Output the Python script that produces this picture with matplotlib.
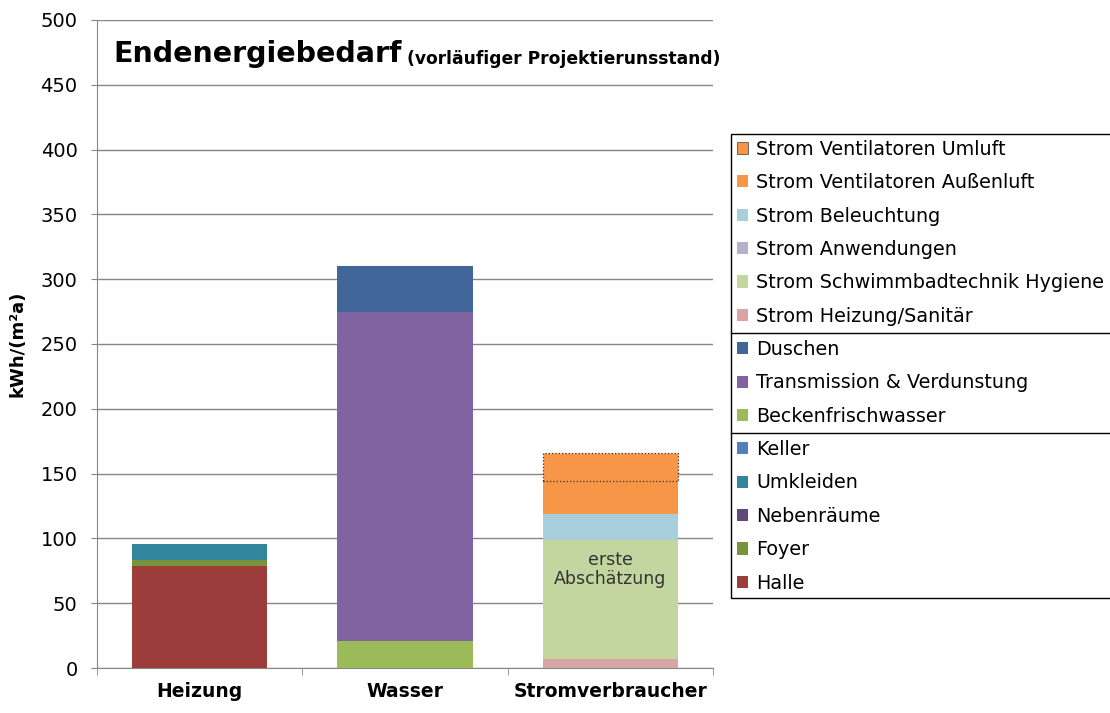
import numpy as np
import matplotlib.pyplot as plt
from matplotlib.patches import Patch, Rectangle
from matplotlib.lines import Line2D

plt.rcParams['font.family'] = ['DejaVu Sans']

categories = ['Heizung', 'Wasser', 'Stromverbraucher']

# stack order bottom -> top, one value per category
series = [
    ('Halle',                             [79, 0, 0],   '#9B3D3B'),
    ('Foyer',                             [4, 0, 0],    '#77933C'),
    ('Nebenräume',                        [0, 0, 0],    '#604A7B'),
    ('Umkleiden',                         [13, 0, 0],   '#31859C'),
    ('Keller',                            [0, 0, 0],    '#4F81BD'),
    ('Beckenfrischwasser',                [0, 21, 0],   '#9BBB59'),
    ('Transmission & Verdunstung',        [0, 254, 0],  '#8064A2'),
    ('Duschen',                           [0, 35, 0],   '#41679A'),
    ('Strom Heizung/Sanitär',             [0, 0, 7],    '#D9A5A4'),
    ('Strom Schwimmbadtechnik Hygiene',   [0, 0, 92],   '#C4D6A0'),
    ('Strom Anwendungen',                 [0, 0, 0],    '#B8B0CB'),
    ('Strom Beleuchtung',                 [0, 0, 20],   '#A9CFDC'),
    ('Strom Ventilatoren Außenluft',      [0, 0, 25],   '#F79646'),
    ('Strom Ventilatoren Umluft',         [0, 0, 22],   '#F79646'),
]
dotted = {'Strom Ventilatoren Umluft'}

fig = plt.figure(figsize=(11.1, 7.13), dpi=100)
ax = fig.add_axes([0.0874, 0.0631, 0.555, 0.909])

x = np.arange(len(categories))
bottom = np.zeros(len(categories))
handles = []
for name, vals, col in series:
    vals = np.array(vals, dtype=float)
    nz = vals > 0
    if name in dotted:
        ax.bar(x[nz], vals[nz], 0.66, bottom=bottom[nz], color=col,
               edgecolor='#333333', linestyle=':', linewidth=0.9, zorder=3)
        handles.append(Patch(facecolor=col, edgecolor='#555555', linewidth=0.6))
    else:
        ax.bar(x[nz], vals[nz], 0.66, bottom=bottom[nz], color=col,
               linewidth=0, zorder=3)
        handles.append(Patch(facecolor=col, edgecolor='none'))
    bottom += vals

ax.text(2, 76, 'erste\nAbschätzung', ha='center', va='center', fontsize=12.5,
        color='#333333', zorder=4, linespacing=1.05)

ax.set_xlim(-0.5, 2.5)
ax.set_ylim(0, 500)
ax.set_yticks(np.arange(0, 501, 50))
ax.tick_params(axis='y', labelsize=14, length=4, color='#868686', pad=10)
ax.set_xticks(x)
ax.set_xticklabels(categories, fontsize=13.5, fontweight='bold')
ax.set_xticks([-0.5, 0.5, 1.5, 2.5], minor=True)
ax.tick_params(axis='x', which='major', length=0, pad=10)
ax.tick_params(axis='x', which='minor', length=5, color='#868686')
ax.grid(axis='y', color='#868686', linewidth=1)
ax.set_axisbelow(True)
for s in ['top', 'right']:
    ax.spines[s].set_visible(False)
for s in ['left', 'bottom']:
    ax.spines[s].set_color('#868686')
ax.set_ylabel('kWh/(m²a)', fontsize=13, fontweight='bold', labelpad=10)

t1 = ax.text(0.026, 0.935, 'Endenergiebedarf', transform=ax.transAxes,
             fontsize=20.5, fontweight='bold', va='baseline')
ax.annotate(' (vorläufiger Projektierunsstand)', xy=(1, 0), xycoords=t1,
            fontsize=12.3, fontweight='bold', va='bottom')

labels = [s[0] for s in series]
leg = fig.legend(handles[::-1], labels[::-1], loc='upper left',
                 bbox_to_anchor=(731 / 1110, 1 - 134 / 713),
                 fontsize=13.8, frameon=False,
                 handlelength=0.6, handleheight=0.6,
                 handletextpad=0.4, labelspacing=0.75, borderpad=0.3,
                 borderaxespad=0)

# legend box runs off the right edge, with separators between the groups
fig.canvas.draw()
W, H = fig.bbox.width, fig.bbox.height
lb = leg.get_window_extent()
fig.add_artist(Rectangle((lb.x0 / W, lb.y0 / H), 1.0, (lb.y1 - lb.y0) / H,
                         transform=fig.transFigure, facecolor='none',
                         edgecolor='black', linewidth=1))
texts = leg.get_texts()
for i in (5, 8):
    a = texts[i].get_window_extent()
    b = texts[i + 1].get_window_extent()
    yf = (a.y0 + b.y1) / 2 / H
    fig.add_artist(Line2D([lb.x0 / W, 1.0], [yf, yf], color='black',
                          linewidth=1))

fig.savefig('out.png', dpi=100)
